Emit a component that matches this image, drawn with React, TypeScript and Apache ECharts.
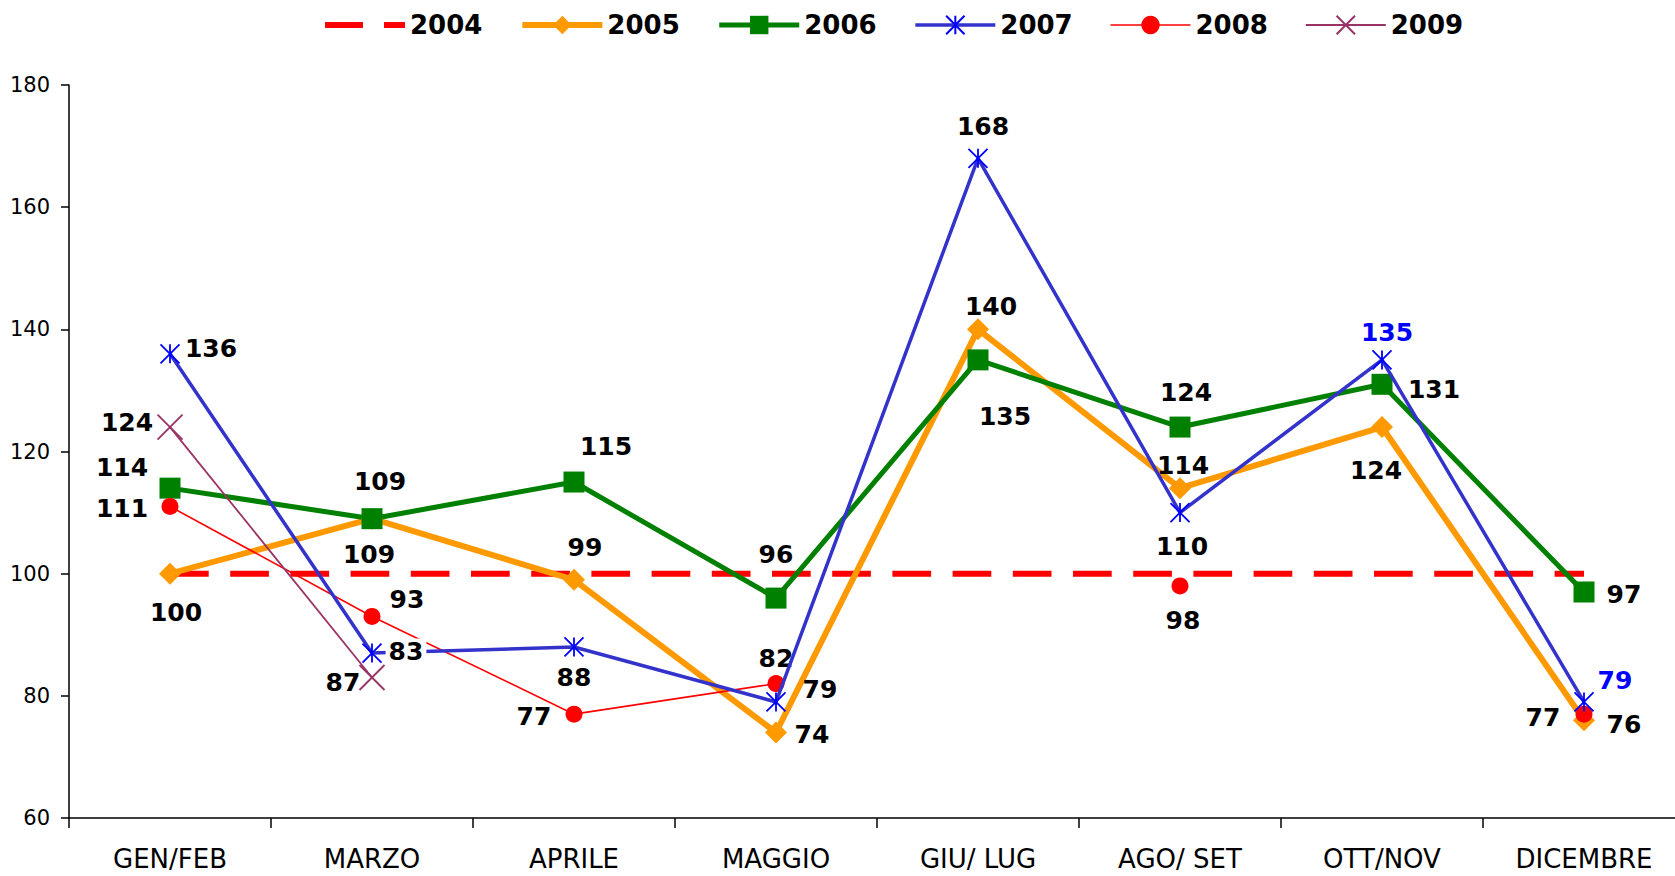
import { useEffect, useRef } from "react";
import * as echarts from "echarts";

const categories = ["GEN/FEB", "MARZO", "APRILE", "MAGGIO", "GIU/ LUG", "AGO/ SET", "OTT/NOV", "DICEMBRE"];
const years = ["2004", "2005", "2006", "2007", "2008", "2009"];

const v2004 = [100, 100, 100, 100, 100, 100, 100, 100];
const v2005 = [100, 109, 99, 74, 140, 114, 124, 76];
const v2006 = [114, 109, 115, 96, 135, 124, 131, 97];
const v2007 = [136, 87, 88, 79, 168, 110, 135, 79];
const v2008: (number | null)[] = [111, 93, 77, 82, null, 98, null, 77];
const v2009: (number | null)[] = [124, 83, null, null, null, null, null, null];

// data label texts as printed on the chart
const t2005 = ["100", "109", "99", "74", "140", "114", "124", "76"];
const t2006 = ["114", "109", "115", "96", "135", "124", "131", "97"];
const t2007 = ["136", "83", "88", "79", "168", "110", "135", "79"];
const t2008 = ["111", "93", "77", "82", "", "98", "", "77"];
const t2009 = ["124", "87", "", "", "", "", "", ""];

const yMin = 60;
const yMax = 180;
const yStep = 20;

// label placement (style): offsets of the label centre from the point
const off2005 = [[6, 39], [-3, 36], [11, -32], [36, 2], [13, -23], [3, -23], [-6, 43], [40, 4]];
const off2006 = [[-48, -21], [8, -37], [32, -36], [0, -44], [27, 57], [6, -35], [52, 5], [40, 3]];
const off2007 = [[41, -5], [34, -2], [0, 31], [44, -12], [5, -32], [2, 34], [5, -27], [31, -21]];
const off2008 = [[-48, 2], [35, -17], [-40, 2], [0, -25], [0, 0], [3, 35], [0, 0], [-41, 3]];
const off2009 = [[-43, -5], [-29, 5], [0, 0], [0, 0], [0, 0], [0, 0], [0, 0], [0, 0]];
const col2007 = ["#000", "#000", "#000", "#000", "#000", "#000", "#0000FF", "#0000FF"];
const bg2007 = ["", "#fff", "", "", "", "", "", ""];

const FONT = "'DejaVu Sans', Verdana, sans-serif";

function buildData(
  values: (number | null)[],
  texts: string[],
  offsets: number[][],
  colors?: string[],
  bgs?: string[]
) {
  return values.map((v, i) => {
    if (v === null || v === undefined) return "-";
    const label: any = {
      show: true,
      formatter: texts[i],
      position: "inside",
      offset: offsets[i],
      color: colors ? colors[i] : "#000",
    };
    if (bgs && bgs[i]) {
      label.backgroundColor = bgs[i];
      label.padding = [0, 3, 0, 3];
    }
    return { value: v, label };
  });
}

const ASTERISK = "path://M10 0L10 20M0 0L20 20M0 20L20 0";
const CROSS = "path://M0 0L20 20M0 20L20 0";
const DASH_ICON = "path://M0 0h38v6H0zM59 0h21v6H59z";

export default function App() {
  const ref = useRef<HTMLDivElement>(null);
  useEffect(() => {
    if (!ref.current) return;
    const chart = echarts.init(ref.current, undefined, { renderer: "svg" });
    const labelBase = {
      show: true,
      fontFamily: FONT,
      fontWeight: "bold",
      fontSize: 25,
      color: "#000",
    };
    const legendWidths = [0, 6, 5, 3.5, 1.6, 1.8];
    chart.setOption({
      animation: false,
      backgroundColor: "#fff",
      textStyle: { fontFamily: FONT },
      legend: {
        data: years.map((y, i) =>
          i === 0
            ? { name: y, icon: DASH_ICON, itemStyle: { color: "#FF0000" } }
            : { name: y, lineStyle: { width: legendWidths[i] } }
        ),
        left: 320,
        top: 7,
        itemWidth: 80,
        itemHeight: 23,
        itemGap: 37,
        textStyle: { fontFamily: FONT, fontWeight: "bold", fontSize: 26, color: "#000" },
      },
      grid: { left: 69, right: 0, top: 85, bottom: 58 },
      xAxis: {
        type: "category",
        data: categories,
        boundaryGap: true,
        axisLine: { lineStyle: { color: "#000", width: 1.5 } },
        axisTick: { show: true, length: 10, interval: 0, lineStyle: { color: "#000", width: 1.5 } },
        axisLabel: { interval: 0, margin: 28, fontFamily: FONT, fontSize: 26, color: "#000" },
        splitLine: { show: false },
      },
      yAxis: {
        type: "value",
        min: yMin,
        max: yMax,
        interval: yStep,
        axisLine: { show: true, lineStyle: { color: "#000", width: 1.5 } },
        axisTick: { show: true, length: 8, lineStyle: { color: "#000", width: 1.5 } },
        axisLabel: { margin: 19, fontFamily: FONT, fontSize: 21, color: "#000" },
        splitLine: { show: false },
      },
      series: [
        {
          name: "2004",
          type: "line",
          data: v2004,
          symbol: "none",
          color: "#FF0000",
          lineStyle: { color: "#FF0000", width: 6, type: [38.7, 21.5] },
          itemStyle: { color: "#FF0000" },
          z: 2,
        },
        {
          name: "2005",
          type: "line",
          data: buildData(v2005, t2005, off2005),
          symbol: "diamond",
          symbolSize: 22,
          color: "#FF9900",
          lineStyle: { color: "#FF9900", width: 6 },
          itemStyle: { color: "#FF9900" },
          label: labelBase,
          z: 2,
        },
        {
          name: "2006",
          type: "line",
          data: buildData(v2006, t2006, off2006),
          symbol: "rect",
          symbolSize: 21,
          color: "#008000",
          lineStyle: { color: "#008000", width: 5 },
          itemStyle: { color: "#008000" },
          label: labelBase,
          z: 2,
        },
        {
          name: "2007",
          type: "line",
          data: buildData(v2007, t2007, off2007, col2007, bg2007),
          symbol: ASTERISK,
          symbolSize: 19,
          color: "#3333CC",
          lineStyle: { color: "#3333CC", width: 3.5 },
          itemStyle: { color: "#0000FF", borderColor: "#0000FF", borderWidth: 1.8 },
          label: labelBase,
          z: 3,
        },
        {
          name: "2008",
          type: "line",
          data: buildData(v2008, t2008, off2008),
          symbol: "circle",
          symbolSize: 17,
          color: "#FF0000",
          lineStyle: { color: "#FF0000", width: 1.6 },
          itemStyle: { color: "#FF0000" },
          label: labelBase,
          z: 2,
        },
        {
          name: "2009",
          type: "line",
          data: buildData(v2009, t2009, off2009),
          symbol: CROSS,
          symbolSize: 25,
          color: "#993366",
          lineStyle: { color: "#993366", width: 1.8 },
          itemStyle: { color: "#993366", borderColor: "#993366", borderWidth: 1.8 },
          label: labelBase,
          z: 2,
        },
      ],
    });
    return () => chart.dispose();
  }, []);
  return (
    <div
      style={{
        position: "fixed",
        left: 0,
        top: 0,
        width: 1675,
        height: 876,
        overflow: "hidden",
        background: "#fff",
      }}
    >
      <div ref={ref} style={{ position: "absolute", left: 0, top: 0, width: 1685, height: 876 }} />
    </div>
  );
}
